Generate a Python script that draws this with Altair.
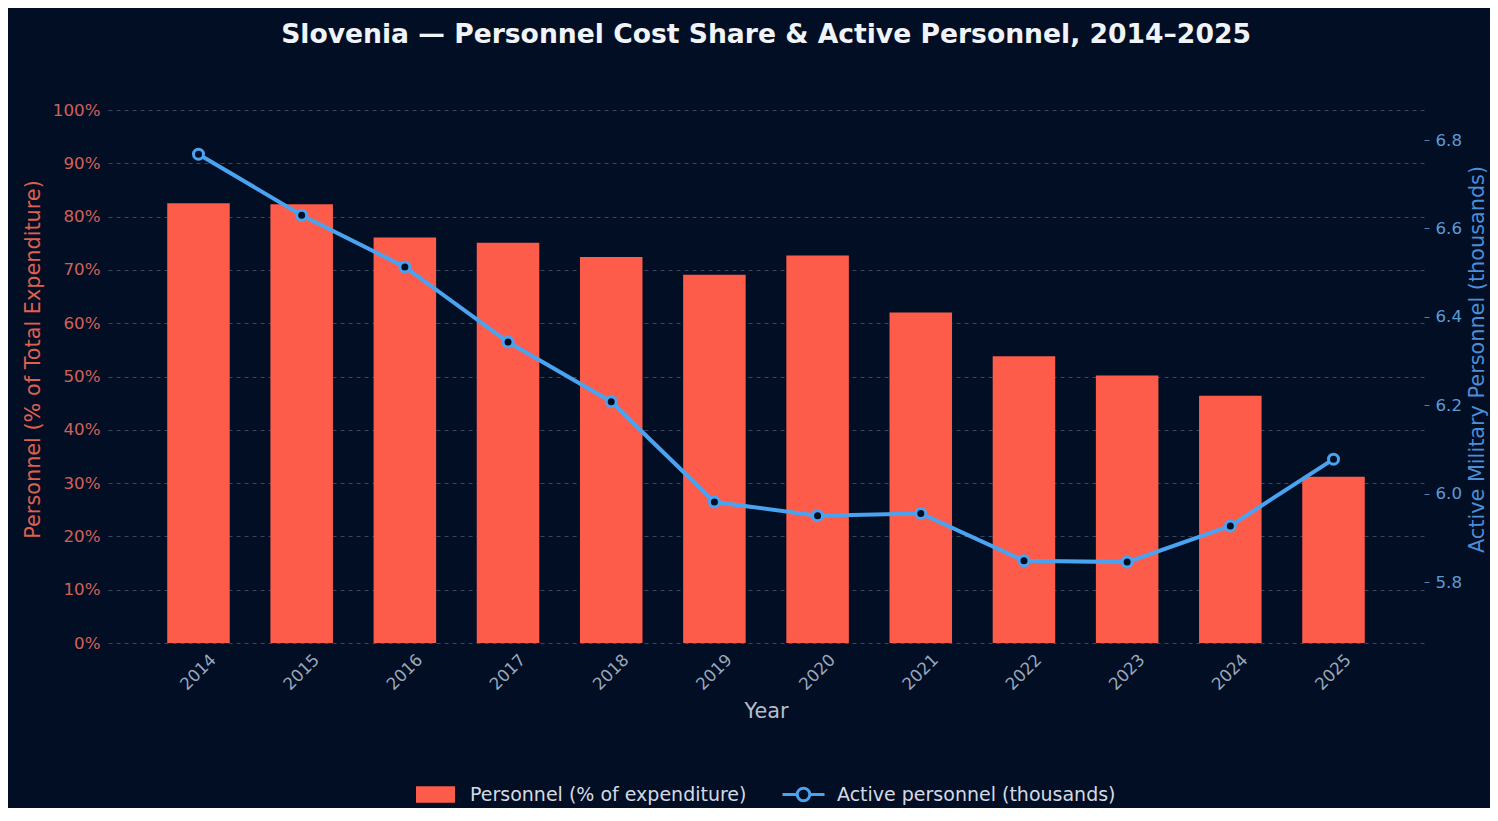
import altair as alt
import pandas as pd

years = [str(y) for y in range(2014, 2026)]
personnel_pct = [82.5, 82.3, 76.1, 75.1, 72.4, 69.1, 72.7, 62.0, 53.8, 50.2, 46.4, 31.2]
active_k = [6.768, 6.630, 6.513, 6.343, 6.208, 5.981, 5.950, 5.955, 5.848, 5.845, 5.927, 6.078]
pct_ticks = list(range(0, 101, 10))
active_ticks = [5.8, 6.0, 6.2, 6.4, 6.6, 6.8]

BAR_LABEL = "Personnel (% of expenditure)"
LINE_LABEL = "Active personnel (thousands)"

BG = "#020e24"
RED = "#fd5c4b"
BLUE = "#4aa3f0"
TICK_FS = 16.7
TITLE_FS = 20.8
LEG_FS = 19

df = pd.DataFrame({
    "Year": years,
    "pct": personnel_pct,
    "active": active_k,
    "bar_series": BAR_LABEL,
    "line_series": LINE_LABEL,
})

x_enc = alt.X(
    "Year:O",
    scale=alt.Scale(paddingInner=0.394, paddingOuter=0.574),
    axis=alt.Axis(
        title="Year", labelAngle=-45, labelAlign="center", labelBaseline="middle",
        labelPadding=29, ticks=False, tickSize=0, domain=False,
        labelColor="#9aa8bb", labelFontSize=TICK_FS, titleColor="#b4bfcc",
        titleFontSize=TITLE_FS, titlePadding=8, titleFontWeight="normal",
    ),
)

bars = alt.Chart(df).mark_bar().encode(
    x=x_enc,
    y=alt.Y(
        "pct:Q",
        scale=alt.Scale(domain=[0, 100], nice=False),
        axis=alt.Axis(
            title="Personnel (% of Total Expenditure)", values=pct_ticks,
            labelExpr="datum.value + '%'", orient="left", grid=True,
            gridDash=[4, 4], gridColor="#364660", gridWidth=1, ticks=False,
            domain=False, labelPadding=8, labelColor="#d0605a", labelFontSize=TICK_FS,
            titleColor="#e0604f", titleFontSize=TITLE_FS, titleFontWeight="normal",
            titleX=-75, titleY=249, titleAlign="center", titleBaseline="middle",
            titleAngle=-90,
        ),
    ),
    fill=alt.Fill(
        "bar_series:N",
        scale=alt.Scale(domain=[BAR_LABEL], range=[RED]),
        legend=alt.Legend(
            title=None, orient="none", legendX=308, legendY=665,
            symbolType="M-1,-0.42H1V0.42H-1Z", symbolSize=1521,
            symbolStrokeWidth=0, labelFontSize=LEG_FS, labelColor="#d4dae3",
            labelOffset=15, padding=0, labelLimit=500,
        ),
    ),
)

right_axis = alt.Axis(
    title="Active Military Personnel (thousands)", orient="right",
    values=active_ticks, format=".1f", grid=False, ticks=True, tickSize=5,
    tickColor="#4a7fb8", domain=False, labelPadding=6, labelColor="#5b9bd5",
    labelFontSize=TICK_FS, titleColor="#4a8fd8", titleFontSize=TITLE_FS,
    titleAngle=-90, titleX=53, titleY=249, titleAlign="center",
    titleBaseline="middle", titleFontWeight="normal",
)
right_scale = alt.Scale(domain=[5.662, 6.868], nice=False, zero=False)

line = alt.Chart(df).mark_line(strokeWidth=4).encode(
    x=x_enc,
    y=alt.Y("active:Q", scale=right_scale, axis=right_axis),
    stroke=alt.Stroke(
        "line_series:N",
        scale=alt.Scale(domain=[LINE_LABEL], range=[BLUE]),
        legend=alt.Legend(
            title=None, orient="none", legendX=673, legendY=662,
            symbolType="M-1,0L-0.3,0M0.3,0L1,0M-0.3,0A0.3,0.3,0,1,0,0.3,0A0.3,0.3,0,1,0,-0.3,0",
            symbolSize=1764, symbolStrokeWidth=3, symbolFillColor=BG,
            labelFontSize=LEG_FS, labelColor="#d4dae3", labelOffset=11, padding=0,
            labelLimit=500,
        ),
    ),
)

points = alt.Chart(df).mark_point(
    filled=True, fill=BG, stroke=BLUE, strokeWidth=3, size=100, opacity=1
).encode(
    x=x_enc,
    y=alt.Y("active:Q", scale=right_scale, axis=right_axis),
)

chart = (
    alt.layer(bars, alt.layer(line, points))
    .resolve_scale(y="independent")
    .properties(
        width=1316,
        height=533,
        padding={"left": 100, "top": 102, "right": 66, "bottom": 165},
        autosize=alt.AutoSizeParams(type="none"),
        background=BG,
        title=alt.TitleParams(
            "Slovenia — Personnel Cost Share & Active Personnel, 2014–2025",
            fontSize=26.6, fontWeight="bold", color="#f0f4f8", anchor="middle",
            offset=53, font="DejaVu Sans",
        ),
    )
    .configure(font="DejaVu Sans")
    .configure_view(stroke=None)
)

chart.save("out.html", embed_options={"renderer": "svg", "actions": False})
